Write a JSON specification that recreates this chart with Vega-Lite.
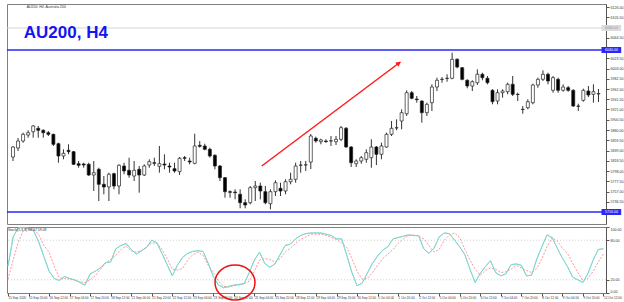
{
"$schema":"https://vega.github.io/schema/vega-lite/v6.json",
"padding":{"left":5,"top":3,"right":0,"bottom":0},
"background":"white",
"spacing":0,
"config":{"view":{"stroke":"#808080","strokeWidth":1},"font":"Liberation Sans","axis":{"labelFont":"Liberation Sans","labelOverlap":false,"labelSeparation":0,"labelBound":false}},
"datasets":{
"candles":[
{"i":0,"o":5826,"h":5848,"l":5818,"c":5846},{"i":1,"o":5844,"h":5864,"l":5838,"c":5858},{"i":2,"o":5858,"h":5874.6,"l":5854.6,"c":5871.4},{"i":3,"o":5870,"h":5879.4,"l":5864.6,"c":5874.6},{"i":4,"o":5876.6,"h":5890,"l":5864.6,"c":5888},{"i":5,"o":5883.4,"h":5888,"l":5864.6,"c":5879.4},{"i":6,"o":5879.4,"h":5881.4,"l":5864.6,"c":5874.6},{"i":7,"o":5874.6,"h":5878,"l":5868,"c":5871.4},{"i":8,"o":5871.4,"h":5872.6,"l":5848,"c":5851.4},{"i":9,"o":5852.6,"h":5854.6,"l":5814.6,"c":5828},
{"i":10,"o":5828,"h":5841.4,"l":5821.4,"c":5833.4},{"i":11,"o":5839.4,"h":5851.4,"l":5831.4,"c":5836.6},{"i":12,"o":5836.6,"h":5838,"l":5810,"c":5811.4},{"i":13,"o":5812.6,"h":5818,"l":5804.6,"c":5809.4},{"i":14,"o":5812,"h":5814.6,"l":5804.6,"c":5810},{"i":15,"o":5811.4,"h":5814.6,"l":5788,"c":5790},{"i":16,"o":5790,"h":5818,"l":5758,"c":5794.6},{"i":17,"o":5801.4,"h":5804.6,"l":5738,"c":5771.4},{"i":18,"o":5771.4,"h":5788,"l":5751.4,"c":5766},{"i":19,"o":5766,"h":5794.6,"l":5738,"c":5791.4},
{"i":20,"o":5792.6,"h":5794.6,"l":5761.4,"c":5768},{"i":21,"o":5768,"h":5811.4,"l":5751.4,"c":5809.4},{"i":22,"o":5808,"h":5814.6,"l":5791.4,"c":5798},{"i":23,"o":5799.4,"h":5824.6,"l":5784.6,"c":5790},{"i":24,"o":5788,"h":5818,"l":5778,"c":5799.4},{"i":25,"o":5801.4,"h":5808,"l":5754.6,"c":5790},{"i":26,"o":5790,"h":5811.4,"l":5788,"c":5808},{"i":27,"o":5810,"h":5821.4,"l":5804.6,"c":5816.6},{"i":28,"o":5814.6,"h":5824.6,"l":5808,"c":5813.4},{"i":29,"o":5807.4,"h":5848,"l":5794.6,"c":5812.6},
{"i":30,"o":5812,"h":5831.4,"l":5801.4,"c":5810},{"i":31,"o":5808,"h":5814.6,"l":5794.6,"c":5806},{"i":32,"o":5802.6,"h":5814.6,"l":5794.6,"c":5798},{"i":33,"o":5796.6,"h":5826,"l":5790,"c":5823.4},{"i":34,"o":5824.6,"h":5828,"l":5818,"c":5823.4},{"i":35,"o":5818,"h":5824.6,"l":5811.4,"c":5816},{"i":36,"o":5813.4,"h":5872.6,"l":5811.4,"c":5848},{"i":37,"o":5849.4,"h":5858,"l":5844.6,"c":5847.4},{"i":38,"o":5848,"h":5852.6,"l":5839.4,"c":5841.4},{"i":39,"o":5841.4,"h":5844.6,"l":5824.6,"c":5828},
{"i":40,"o":5829.4,"h":5831.4,"l":5801.4,"c":5808},{"i":41,"o":5808,"h":5810,"l":5778,"c":5784.6},{"i":42,"o":5784.6,"h":5786,"l":5744.6,"c":5756.6},{"i":43,"o":5756.6,"h":5759.4,"l":5744.6,"c":5755.4},{"i":44,"o":5756,"h":5761.4,"l":5741.4,"c":5754.6},{"i":45,"o":5751.4,"h":5761.4,"l":5723.4,"c":5734.6},{"i":46,"o":5734.6,"h":5741.4,"l":5723.4,"c":5730},{"i":47,"o":5734.6,"h":5768,"l":5731.4,"c":5764.6},{"i":48,"o":5764.6,"h":5778,"l":5738,"c":5768},{"i":49,"o":5768,"h":5774.6,"l":5741.4,"c":5758},
{"i":50,"o":5756.6,"h":5768,"l":5731.4,"c":5734.6},{"i":51,"o":5732.6,"h":5761.4,"l":5721.4,"c":5756.6},{"i":52,"o":5756.6,"h":5779.4,"l":5748,"c":5774.6},{"i":53,"o":5763.4,"h":5774.6,"l":5748,"c":5758},{"i":54,"o":5758,"h":5781.4,"l":5751.4,"c":5776.6},{"i":55,"o":5776.6,"h":5794.6,"l":5771.4,"c":5781.4},{"i":56,"o":5781.4,"h":5814.6,"l":5774.6,"c":5808},{"i":57,"o":5809.4,"h":5818,"l":5794.6,"c":5810},{"i":58,"o":5810,"h":5818,"l":5798,"c":5810.5},{"i":59,"o":5816,"h":5872,"l":5802,"c":5868},
{"i":60,"o":5863.4,"h":5866.6,"l":5854.6,"c":5858},{"i":61,"o":5856.6,"h":5862.6,"l":5851.4,"c":5860},{"i":62,"o":5858,"h":5861.4,"l":5854.6,"c":5856.6},{"i":63,"o":5858,"h":5868,"l":5848,"c":5858.5},{"i":64,"o":5856.6,"h":5868,"l":5850,"c":5861.4},{"i":65,"o":5861.4,"h":5888,"l":5858,"c":5884.6},{"i":66,"o":5883.4,"h":5886,"l":5844.6,"c":5846},{"i":67,"o":5846,"h":5848,"l":5806,"c":5814.6},{"i":68,"o":5812.6,"h":5821.4,"l":5806,"c":5818},{"i":69,"o":5818,"h":5828,"l":5812.6,"c":5824.6},
{"i":70,"o":5821.4,"h":5841.4,"l":5814.6,"c":5834.6},{"i":71,"o":5824.6,"h":5861.4,"l":5804.6,"c":5846},{"i":72,"o":5846,"h":5848,"l":5810,"c":5831.4},{"i":73,"o":5831.4,"h":5854.6,"l":5821.4,"c":5848},{"i":74,"o":5846,"h":5874.6,"l":5844.6,"c":5871.4},{"i":75,"o":5871.4,"h":5898,"l":5868,"c":5883.4},{"i":76,"o":5884,"h":5901.4,"l":5879.4,"c":5884.6},{"i":77,"o":5898,"h":5921.4,"l":5881.4,"c":5914.6},{"i":78,"o":5912.6,"h":5959.4,"l":5908,"c":5954.6},{"i":79,"o":5954.6,"h":5958,"l":5941.4,"c":5943.4},
{"i":80,"o":5942,"h":5948,"l":5934.6,"c":5940.6},{"i":81,"o":5938,"h":5939.4,"l":5894.6,"c":5914.6},{"i":82,"o":5914.6,"h":5934.6,"l":5908,"c":5931.4},{"i":83,"o":5934.6,"h":5971.4,"l":5918,"c":5966},{"i":84,"o":5966,"h":5984.6,"l":5958,"c":5979.4},{"i":85,"o":5981,"h":5986,"l":5974.6,"c":5981.5},{"i":86,"o":5983,"h":5991.4,"l":5976.6,"c":5983.5},{"i":87,"o":5983.4,"h":6034.6,"l":5981.4,"c":6021.4},{"i":88,"o":6021.4,"h":6023.4,"l":6003.4,"c":6006},{"i":89,"o":6004.6,"h":6006,"l":5979.4,"c":5981.4},
{"i":90,"o":5979.4,"h":5981.4,"l":5963.4,"c":5968},{"i":91,"o":5968,"h":5979.4,"l":5958,"c":5976.6},{"i":92,"o":5974.6,"h":6001.4,"l":5970,"c":5991.4},{"i":93,"o":5991.4,"h":5994.6,"l":5979.4,"c":5984.6},{"i":94,"o":5983.4,"h":5988,"l":5971.4,"c":5974.6},{"i":95,"o":5959.4,"h":5961.4,"l":5931.4,"c":5936.6},{"i":96,"o":5938,"h":5961.4,"l":5931.4,"c":5954.6},{"i":97,"o":5954.6,"h":5961.4,"l":5944.6,"c":5958},{"i":98,"o":5956.6,"h":5974.6,"l":5951.4,"c":5971.4},{"i":99,"o":5971.4,"h":5988,"l":5948,"c":5951.4},
{"i":100,"o":5951.4,"h":5954.6,"l":5938,"c":5951},{"i":101,"o":5921.4,"h":5928,"l":5912.6,"c":5921},{"i":102,"o":5924.6,"h":5941.4,"l":5921.4,"c":5936.6},{"i":103,"o":5934.6,"h":5972.6,"l":5931.4,"c":5970},{"i":104,"o":5970,"h":5984.6,"l":5964.6,"c":5981.4},{"i":105,"o":5981.4,"h":5999.4,"l":5978,"c":5991.4},{"i":106,"o":5991.4,"h":5994.6,"l":5971.4,"c":5978},{"i":107,"o":5959.4,"h":5988,"l":5954.6,"c":5984.6},{"i":108,"o":5981.4,"h":5984.6,"l":5954.6,"c":5959.4},{"i":109,"o":5959.4,"h":5971.4,"l":5956.6,"c":5966},
{"i":110,"o":5964.6,"h":5968,"l":5956.6,"c":5959.4},{"i":111,"o":5959.4,"h":5961.4,"l":5926,"c":5928},{"i":112,"o":5928,"h":5932.6,"l":5918,"c":5927.5},{"i":113,"o":5939.4,"h":5962.6,"l":5936.6,"c":5959.4},{"i":114,"o":5958,"h":5968,"l":5946,"c":5950},{"i":115,"o":5951.4,"h":5971.4,"l":5934.6,"c":5956.6},{"i":116,"o":5952,"h":5962,"l":5936,"c":5953}
],
"stoch":[
{"i":0,"k":41,"d":21},{"i":1,"k":85,"d":50},{"i":2,"k":99,"d":77},{"i":3,"k":99,"d":95},{"i":4,"k":98,"d":99},{"i":5,"k":94,"d":97},{"i":6,"k":77,"d":88},{"i":7,"k":55,"d":72},{"i":8,"k":33,"d":62},{"i":9,"k":22,"d":40},
{"i":10,"k":19,"d":23},{"i":11,"k":25,"d":22},{"i":12,"k":22,"d":21},{"i":13,"k":20,"d":19},{"i":14,"k":16,"d":17},{"i":15,"k":12,"d":16},{"i":16,"k":29,"d":20},{"i":17,"k":33,"d":26},{"i":18,"k":38,"d":36},{"i":19,"k":46,"d":45},
{"i":20,"k":47,"d":51},{"i":21,"k":67,"d":57},{"i":22,"k":72,"d":66},{"i":23,"k":75,"d":71},{"i":24,"k":66,"d":64},{"i":25,"k":59,"d":62},{"i":26,"k":64,"d":64},{"i":27,"k":69,"d":70},{"i":28,"k":80,"d":76},{"i":29,"k":76,"d":75},
{"i":30,"k":60,"d":66},{"i":31,"k":43,"d":52},{"i":32,"k":26,"d":36},{"i":33,"k":42,"d":35},{"i":34,"k":54,"d":37},{"i":35,"k":60,"d":50},{"i":36,"k":63,"d":58},{"i":37,"k":64,"d":62},{"i":38,"k":63,"d":57},{"i":39,"k":45,"d":42},
{"i":40,"k":25,"d":31},{"i":41,"k":12,"d":18},{"i":42,"k":8,"d":10},{"i":43,"k":10,"d":9},{"i":44,"k":12,"d":11},{"i":45,"k":13,"d":12},{"i":46,"k":14,"d":14},{"i":47,"k":31,"d":18},{"i":48,"k":50,"d":33},{"i":49,"k":62,"d":50},
{"i":50,"k":45,"d":52},{"i":51,"k":39,"d":51},{"i":52,"k":44,"d":47},{"i":53,"k":58,"d":52},{"i":54,"k":72,"d":62},{"i":55,"k":74,"d":68},{"i":56,"k":82,"d":75},{"i":57,"k":87,"d":81},{"i":58,"k":90,"d":85},{"i":59,"k":91,"d":89},
{"i":60,"k":91,"d":89},{"i":61,"k":91,"d":89},{"i":62,"k":89,"d":87},{"i":63,"k":87,"d":84},{"i":64,"k":82,"d":81},{"i":65,"k":82,"d":76},{"i":66,"k":57,"d":69},{"i":67,"k":31,"d":52},{"i":68,"k":11,"d":33},{"i":69,"k":15,"d":21},
{"i":70,"k":30,"d":22},{"i":71,"k":45,"d":31},{"i":72,"k":56,"d":42},{"i":73,"k":65,"d":52},{"i":74,"k":70,"d":59},{"i":75,"k":82,"d":66},{"i":76,"k":84,"d":75},{"i":77,"k":86,"d":82},{"i":78,"k":88,"d":87},{"i":79,"k":87,"d":88},
{"i":80,"k":87,"d":86},{"i":81,"k":67,"d":82},{"i":82,"k":60,"d":72},{"i":83,"k":68,"d":62},{"i":84,"k":85,"d":66},{"i":85,"k":91,"d":80},{"i":86,"k":90,"d":88},{"i":87,"k":80,"d":91},{"i":88,"k":70,"d":84},{"i":89,"k":58,"d":66},
{"i":90,"k":36,"d":50},{"i":91,"k":16,"d":36},{"i":92,"k":30,"d":27},{"i":93,"k":40,"d":34},{"i":94,"k":49,"d":38},{"i":95,"k":31,"d":36},{"i":96,"k":26,"d":31},{"i":97,"k":29,"d":32},{"i":98,"k":43,"d":36},{"i":99,"k":44,"d":42},
{"i":100,"k":42,"d":38},{"i":101,"k":26,"d":34},{"i":102,"k":27,"d":31},{"i":103,"k":51,"d":37},{"i":104,"k":70,"d":52},{"i":105,"k":88,"d":70},{"i":106,"k":84,"d":84},{"i":107,"k":68,"d":79},{"i":108,"k":53,"d":68},{"i":109,"k":40,"d":60},
{"i":110,"k":24,"d":45},{"i":111,"k":20,"d":31},{"i":112,"k":16,"d":19},{"i":113,"k":30,"d":22},{"i":114,"k":50,"d":33},{"i":115,"k":66,"d":47},{"i":116,"k":67,"d":59}
]
},
"vconcat":[
{
"width":599,"height":220,
"data":{"name":"candles"},
"layer":[
{"mark":{"type":"rule","color":"#333333","strokeWidth":1},
 "encoding":{
  "x":{"field":"i","type":"quantitative","scale":{"domain":[-0.2,116.5],"nice":false,"zero":false},"axis":null},
  "y":{"field":"l","type":"quantitative","scale":{"domain":[5692,6132],"nice":false,"zero":false},
       "axis":{"orient":"right","title":null,"grid":false,"tickCount":200,"values":[6126,6105.5,6064.5,6023.5,6003,5982.5,5962,5941.5,5921,5900.5,5880,5859.5,5839,5818.5,5798,5777.5,5757,5736.5],"format":".2f","labelFontSize":3.6,"labelColor":"#333333","tickSize":3,"tickColor":"#555555","domainColor":"#555555","labelPadding":1,"labelOverlap":false}},
  "y2":{"field":"h"}}},
{"mark":{"type":"bar","size":3,"stroke":"#222222","strokeWidth":0.7},
 "encoding":{
  "x":{"field":"i","type":"quantitative","axis":null},
  "y":{"field":"o","type":"quantitative"},
  "y2":{"field":"c"},
  "fill":{"condition":{"test":"datum.c >= datum.o","value":"#ffffff"},"value":"#000000"}}},
{"data":{"values":[{}]},"mark":{"type":"rule","color":"#d4d4d4","strokeWidth":1},
 "encoding":{"y":{"datum":6084,"type":"quantitative"}}},
{"data":{"values":[{}]},"mark":{"type":"rule","color":"#2a2af5","strokeWidth":1.6},
 "encoding":{"y":{"datum":6040,"type":"quantitative"}}},
{"data":{"values":[{}]},"mark":{"type":"rule","color":"#2a2af5","strokeWidth":1.6},
 "encoding":{"y":{"datum":5716,"type":"quantitative"}}},
{"data":{"values":[{}]},"mark":{"type":"rect","color":"#dcdcdc"},
 "encoding":{"x":{"datum":116.6,"type":"quantitative","axis":null},"x2":{"datum":120.5},"y":{"datum":6090,"type":"quantitative"},"y2":{"datum":6078}}},
{"data":{"values":[{}]},"mark":{"type":"rect","color":"#2a2af5"},
 "encoding":{"x":{"datum":116.6,"type":"quantitative","axis":null},"x2":{"datum":120.5},"y":{"datum":6046,"type":"quantitative"},"y2":{"datum":6034}}},
{"data":{"values":[{}]},"mark":{"type":"rect","color":"#2a2af5"},
 "encoding":{"x":{"datum":116.6,"type":"quantitative","axis":null},"x2":{"datum":120.5},"y":{"datum":5722,"type":"quantitative"},"y2":{"datum":5710}}},
{"data":{"values":[{"p":6084,"lab":"6084.00"}]},"mark":{"type":"text","fontSize":3.6,"color":"#9a9a9a","align":"left","baseline":"middle"},
 "encoding":{"x":{"datum":117.3,"type":"quantitative","axis":null},"y":{"field":"p","type":"quantitative"},"text":{"field":"lab"}}},
{"data":{"values":[{"p":6040,"lab":"6040.00"},{"p":5716,"lab":"5716.00"}]},"mark":{"type":"text","fontSize":3.6,"color":"#ffffff","align":"left","baseline":"middle"},
 "encoding":{"x":{"datum":117.3,"type":"quantitative","axis":null},"y":{"field":"p","type":"quantitative"},"text":{"field":"lab"}}},
{"data":{"values":[{"t":"AU200, H4"}]},"mark":{"type":"text","font":"Liberation Sans","fontSize":17,"fontWeight":"bold","color":"#1515f0","align":"left","baseline":"alphabetic"},
 "encoding":{"x":{"datum":2.14,"type":"quantitative","axis":null},"y":{"datum":6064.6,"type":"quantitative"},"text":{"field":"t"}}},
{"data":{"values":[{"t":"AU200, H4:  Australia 200"}]},"mark":{"type":"text","fontSize":3.5,"color":"#333333","align":"left","baseline":"middle"},
 "encoding":{"x":{"datum":2.7,"type":"quantitative","axis":null},"y":{"datum":6126,"type":"quantitative"},"text":{"field":"t"}}},
{"data":{"values":[{}]},"mark":{"type":"rule","color":"#ff1a1a","strokeWidth":1.5},
 "encoding":{"x":{"datum":49.28,"type":"quantitative","axis":null},"x2":{"datum":76.75},"y":{"datum":5808,"type":"quantitative"},"y2":{"datum":6016}}},
{"data":{"values":[{}]},"mark":{"type":"point","shape":"triangle-up","filled":true,"color":"#ff1a1a","opacity":1,"size":30,"angle":53.6},
 "encoding":{"x":{"datum":76.44,"type":"quantitative","axis":null},"y":{"datum":6013.6,"type":"quantitative"}}}
]
},
{
"width":599,"height":66,
"data":{"name":"stoch"},
"layer":[
{"mark":{"type":"line","color":"#7fd6cf","strokeWidth":0.9},
 "encoding":{
  "x":{"field":"i","type":"quantitative","scale":{"domain":[-0.2,116.5],"nice":false,"zero":false},
       "axis":{"orient":"bottom","title":null,"grid":false,"tickCount":200,"values":[0,4,8,12,16,20,24,28,32,36,40,44,48,52,56,60,64,68,72,76,80,84,88,92,96,100,104,108,112,116],
               "labelExpr":"['15 Sep 2020','15 Sep 20:00','16 Sep 12:00','17 Sep 04:00','17 Sep 20:00','18 Sep 12:00','21 Sep 04:00','21 Sep 20:00','22 Sep 12:00','23 Sep 04:00','23 Sep 20:00','24 Sep 12:00','25 Sep 04:00','25 Sep 20:00','28 Sep 12:00','29 Sep 04:00','29 Sep 20:00','30 Sep 12:00','1 Oct 04:00','1 Oct 20:00','2 Oct 12:00','5 Oct 04:00','5 Oct 20:00','6 Oct 12:00','7 Oct 04:00','7 Oct 20:00','8 Oct 12:00','9 Oct 04:00','9 Oct 20:00','12 Oct 12:00'][round(datum.value/4)]",
               "labelAlign":"left","labelAngle":0,"labelFontSize":3.1,"labelColor":"#333333","tickSize":3,"tickColor":"#555555","domain":false,"labelPadding":0,"labelOverlap":false,"labelBound":false}},
  "y":{"field":"k","type":"quantitative","scale":{"domain":[0,100],"nice":false},
       "axis":{"orient":"right","title":null,"grid":false,"tickCount":50,"values":[0,20,80,100],"format":".2f","labelFontSize":3.6,"labelColor":"#333333","tickSize":3,"tickColor":"#555555","domainColor":"#555555","labelPadding":1,"labelFlush":true,"labelOverlap":false}}}},
{"data":{"values":[{"lvl":20},{"lvl":80}]},"mark":{"type":"rule","color":"#c4c4c4","strokeWidth":0.8,"strokeDash":[1,2]},
 "encoding":{"y":{"field":"lvl","type":"quantitative"}}},
{"mark":{"type":"line","color":"#ff8a8a","strokeWidth":0.9,"strokeDash":[2,1.5]},
 "encoding":{
  "x":{"field":"i","type":"quantitative"},
  "y":{"field":"d","type":"quantitative"}}},
{"mark":{"type":"line","color":"#7fd6cf","strokeWidth":0.9},
 "encoding":{
  "x":{"field":"i","type":"quantitative"},
  "y":{"field":"k","type":"quantitative"}}},
{"data":{"values":[{}]},"mark":{"type":"point","shape":"M-1,0A1,0.875,0,1,1,1,0A1,0.875,0,1,1,-1,0Z","filled":false,"color":"#ee1111","strokeWidth":1.5,"opacity":1,"size":1600},
 "encoding":{"x":{"datum":44.22,"type":"quantitative"},"y":{"datum":15.9,"type":"quantitative"}}},
{"data":{"values":[{"t":"Stoch(5,3,3) 66.67 59.09"}]},"mark":{"type":"text","fontSize":3.5,"color":"#333333","align":"left","baseline":"middle"},
 "encoding":{"x":{"datum":0,"type":"quantitative"},"y":{"datum":95.5,"type":"quantitative"},"text":{"field":"t"}}}
]
}
]
}
